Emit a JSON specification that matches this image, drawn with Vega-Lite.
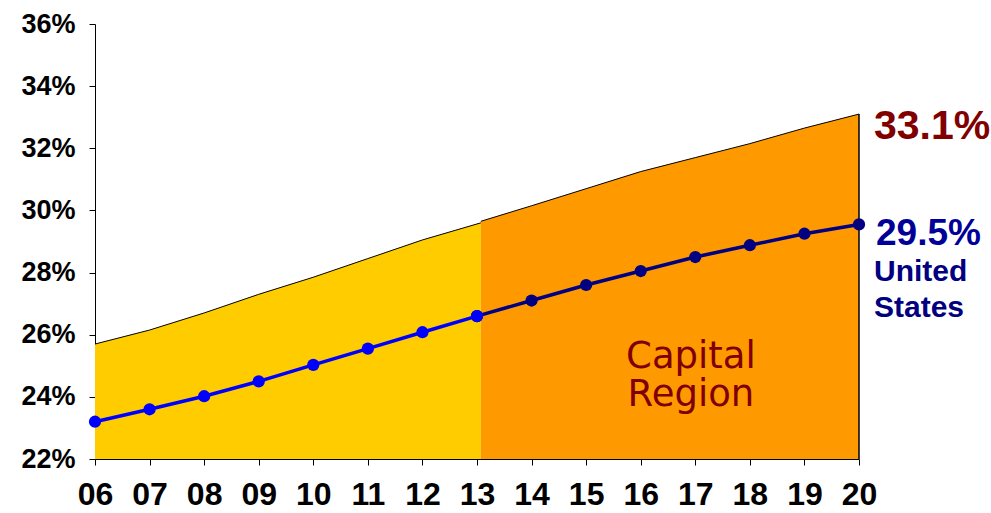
{
  "$schema": "https://vega.github.io/schema/vega-lite/v6.json",
  "width": 764,
  "height": 435,
  "autosize": "none",
  "padding": {"left": 95, "top": 24, "right": 132, "bottom": 54},
  "background": "white",
  "config": {"view": {"stroke": null}},
  "datasets": {
    "region": [
      {"year": 6, "pct": 25.7, "seg": "hist"},
      {"year": 7, "pct": 26.15, "seg": "hist"},
      {"year": 8, "pct": 26.7, "seg": "hist"},
      {"year": 9, "pct": 27.3, "seg": "hist"},
      {"year": 10, "pct": 27.85, "seg": "hist"},
      {"year": 11, "pct": 28.45, "seg": "hist"},
      {"year": 12, "pct": 29.05, "seg": "hist"},
      {"year": 13.07, "pct": 29.6, "seg": "hist"},
      {"year": 13.07, "pct": 29.65, "seg": "proj"},
      {"year": 14, "pct": 30.15, "seg": "proj"},
      {"year": 15, "pct": 30.7, "seg": "proj"},
      {"year": 16, "pct": 31.25, "seg": "proj"},
      {"year": 17, "pct": 31.7, "seg": "proj"},
      {"year": 18, "pct": 32.15, "seg": "proj"},
      {"year": 19, "pct": 32.65, "seg": "proj"},
      {"year": 20, "pct": 33.1, "seg": "proj"}
    ],
    "us": [
      {"year": 13, "pct": 26.6, "seg": "proj"},
      {"year": 14, "pct": 27.1, "seg": "proj"},
      {"year": 15, "pct": 27.6, "seg": "proj"},
      {"year": 16, "pct": 28.05, "seg": "proj"},
      {"year": 17, "pct": 28.5, "seg": "proj"},
      {"year": 18, "pct": 28.88, "seg": "proj"},
      {"year": 19, "pct": 29.25, "seg": "proj"},
      {"year": 20, "pct": 29.55, "seg": "proj"},
      {"year": 6, "pct": 23.2, "seg": "hist"},
      {"year": 7, "pct": 23.6, "seg": "hist"},
      {"year": 8, "pct": 24.02, "seg": "hist"},
      {"year": 9, "pct": 24.5, "seg": "hist"},
      {"year": 10, "pct": 25.03, "seg": "hist"},
      {"year": 11, "pct": 25.55, "seg": "hist"},
      {"year": 12, "pct": 26.08, "seg": "hist"},
      {"year": 13, "pct": 26.6, "seg": "hist"}
    ],
    "labels": [
      {"year": 20, "pct": 33.1, "label": "33.1%", "kind": "region"},
      {"year": 20, "pct": 29.5, "label": "29.5%", "kind": "us"}
    ],
    "region_label": [
      {"year": 16.92, "pct": 25.27, "label": "Capital"},
      {"year": 16.92, "pct": 24.05, "label": "Region"}
    ]
  },
  "encoding": {
    "x": {
      "field": "year", "type": "quantitative",
      "scale": {"domain": [6, 20], "nice": false, "zero": false},
      "axis": {
        "values": [6, 7, 8, 9, 10, 11, 12, 13, 14, 15, 16, 17, 18, 19, 20],
        "labelExpr": "datum.value < 10 ? '0' + datum.value : '' + datum.value",
        "title": null, "grid": false,
        "domainColor": "black", "domainWidth": 1,
        "tickColor": "black", "tickSize": 6, "tickWidth": 1,
        "labelFont": "Liberation Sans", "labelFontWeight": "bold", "labelFontSize": 32,
        "labelColor": "black", "labelPadding": 14, "labelOverlap": false,
        "labelFlush": false, "labelBound": false
      }
    },
    "y": {
      "field": "pct", "type": "quantitative",
      "scale": {"domain": [22, 36], "nice": false, "zero": false},
      "axis": {
        "values": [22, 24, 26, 28, 30, 32, 34, 36],
        "labelExpr": "datum.value + '%'",
        "title": null, "grid": false,
        "domainColor": "black", "domainWidth": 1,
        "tickColor": "black", "tickSize": 6, "tickWidth": 1,
        "labelFont": "Liberation Sans", "labelFontWeight": "bold", "labelFontSize": 27,
        "labelColor": "black", "labelPadding": 14, "labelOverlap": false,
        "labelFlush": false, "labelBound": false
      }
    }
  },
  "layer": [
    {
      "data": {"name": "region"},
      "transform": [{"filter": "datum.seg === 'hist'"}],
      "mark": {"type": "area", "color": "#FFCC00", "opacity": 1},
      "encoding": {"y2": {"datum": 22}}
    },
    {
      "data": {"name": "region"},
      "transform": [{"filter": "datum.seg === 'proj'"}],
      "mark": {"type": "area", "color": "#FF9900", "opacity": 1},
      "encoding": {"y2": {"datum": 22}}
    },
    {
      "data": {"name": "region"},
      "mark": {"type": "line", "color": "black", "strokeWidth": 1},
      "encoding": {"detail": {"field": "seg"}}
    },
    {
      "data": {"name": "region"},
      "transform": [{"filter": "datum.year === 20"}],
      "mark": {"type": "rule", "color": "black", "strokeWidth": 1.5},
      "encoding": {"y2": {"datum": 22}}
    },
    {
      "data": {"name": "us"},
      "transform": [{"filter": "datum.seg === 'proj'"}],
      "mark": {"type": "line", "color": "#000080", "strokeWidth": 3.5, "point": {"filled": true, "size": 150, "color": "#000080"}},
      "encoding": {}
    },
    {
      "data": {"name": "us"},
      "transform": [{"filter": "datum.seg === 'hist'"}],
      "mark": {"type": "line", "color": "#0000FF", "strokeWidth": 3.5, "point": {"filled": true, "size": 150, "color": "#0000FF"}},
      "encoding": {}
    },
    {
      "data": {"name": "labels"},
      "transform": [{"filter": "datum.kind === 'region'"}],
      "mark": {"type": "text", "align": "left", "baseline": "middle", "dx": 15, "dy": 13, "font": "Liberation Sans", "fontWeight": "bold", "fontSize": 41, "color": "#800000"},
      "encoding": {"text": {"field": "label"}}
    },
    {
      "data": {"name": "labels"},
      "transform": [{"filter": "datum.kind === 'us'"}],
      "mark": {"type": "text", "align": "left", "baseline": "middle", "dx": 17, "dy": 8, "font": "Liberation Sans", "fontWeight": "bold", "fontSize": 37, "color": "#000099"},
      "encoding": {"text": {"field": "label"}}
    },
    {
      "data": {"values": [{"year": 20, "pct": 29.5, "label": ["United", "States"]}]},
      "mark": {"type": "text", "align": "left", "baseline": "middle", "dx": 15, "dy": 46, "lineHeight": 36, "font": "Liberation Sans", "fontWeight": "bold", "fontSize": 30, "color": "#000080"},
      "encoding": {"text": {"field": "label"}}
    },
    {
      "data": {"name": "region_label"},
      "mark": {"type": "text", "align": "center", "baseline": "middle", "font": "DejaVu Sans", "fontSize": 37, "color": "#800000"},
      "encoding": {"text": {"field": "label"}}
    }
  ]
}
